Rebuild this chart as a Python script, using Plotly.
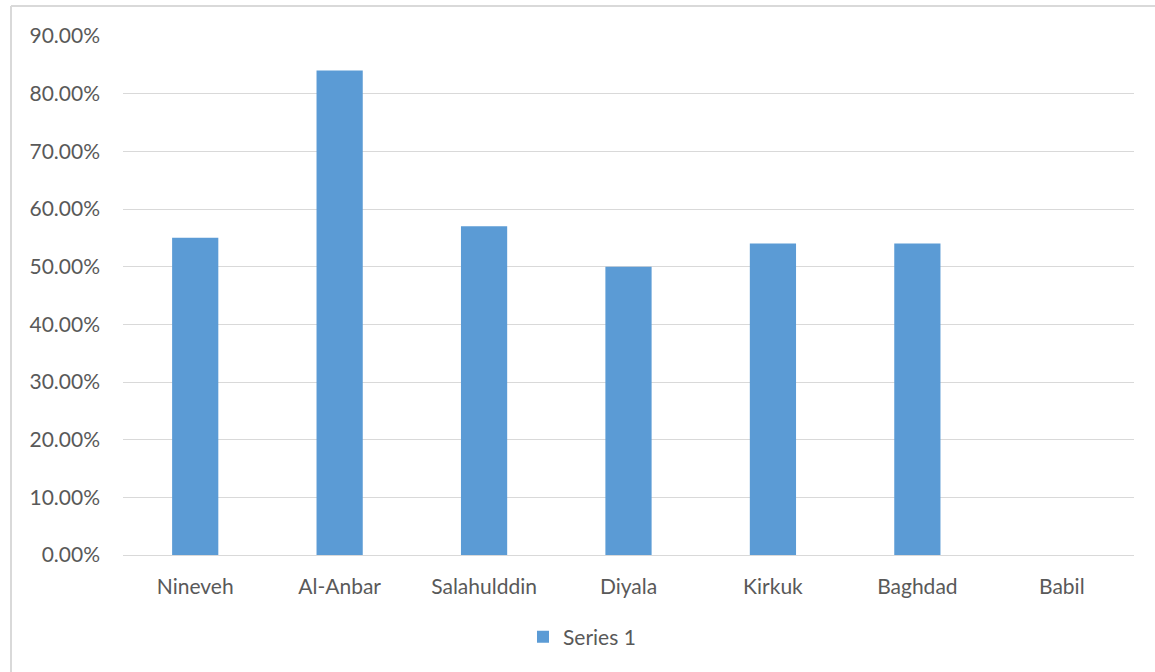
import plotly.graph_objects as go

# Share of each governorate
governorates = ["Nineveh", "Al-Anbar", "Salahulddin", "Diyala", "Kirkuk", "Baghdad", "Babil"]
series_1 = [0.55, 0.84, 0.57, 0.50, 0.54, 0.54, 0.0]
y_ticks = [0.0, 0.1, 0.2, 0.3, 0.4, 0.5, 0.6, 0.7, 0.8, 0.9]

FONT = "Lato, Carlito, 'Open Sans', sans-serif"
TEXT = "#595959"
GRID = "#d9d9d9"
FS = 21

fig = go.Figure(
    go.Bar(
        x=governorates,
        y=series_1,
        name="Series 1",
        marker=dict(color="#5b9bd5", line=dict(width=0)),
    )
)

fig.update_layout(
    width=1155,
    height=672,
    margin=dict(l=123, r=21, t=36, b=117),
    paper_bgcolor="white",
    plot_bgcolor="white",
    bargap=0.68,
    font=dict(family=FONT, size=FS, color=TEXT),
    showlegend=True,
    legend=dict(
        orientation="h",
        x=0.454,
        xanchor="center",
        y=-0.158,
        yanchor="middle",
        font=dict(family=FONT, size=FS, color=TEXT),
        itemwidth=30,
    ),
    xaxis=dict(
        showgrid=False,
        showline=False,
        zeroline=False,
        ticks="",
        tickfont=dict(family=FONT, size=FS, color=TEXT),
        ticklabelstandoff=17,
    ),
    yaxis=dict(
        range=[0, 0.9],
        tickvals=y_ticks,
        tickformat=".2%",
        showgrid=True,
        gridcolor=GRID,
        gridwidth=1,
        zeroline=True,
        zerolinecolor=GRID,
        zerolinewidth=1,
        showline=False,
        ticks="",
        tickfont=dict(family=FONT, size=FS, color=TEXT),
        ticklabelstandoff=22,
    ),
    shapes=[
        # chart-area border (top and left edges)
        dict(type="line", xref="paper", yref="paper",
             x0=-0.1108, x1=1.05, y0=1.0578, y1=1.0578,
             line=dict(color=GRID, width=2)),
        dict(type="line", xref="paper", yref="paper",
             x0=-0.1108, x1=-0.1108, y0=1.0578, y1=-0.25,
             line=dict(color=GRID, width=2)),
    ],
)

fig.write_html("out.html")
